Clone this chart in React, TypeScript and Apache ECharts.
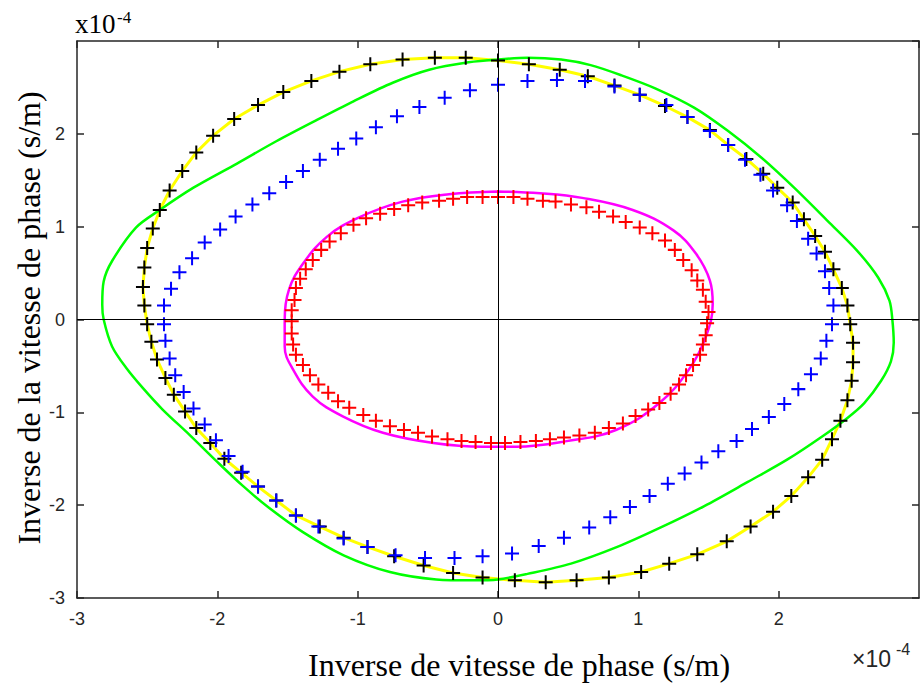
import React, { useEffect, useRef } from "react";
import * as echarts from "echarts";

// values in units of 1e-4 s/m
const axisTicks = [-3, -2, -1, 0, 1, 2, 3];

const blackPlus: [number, number][] = [
  [0.0, 2.79], [-0.23, 2.82], [-0.45, 2.82], [-0.68, 2.8], [-0.91, 2.75], [-1.13, 2.67], [-1.33, 2.57], [-1.53, 2.45],
  [-1.71, 2.31], [-1.88, 2.16], [-2.03, 1.98], [-2.15, 1.8], [-2.25, 1.6], [-2.34, 1.39], [-2.41, 1.18], [-2.46, 0.98],
  [-2.5, 0.77], [-2.52, 0.56], [-2.53, 0.35], [-2.52, 0.15], [-2.5, -0.05], [-2.47, -0.24], [-2.43, -0.43], [-2.37, -0.63],
  [-2.31, -0.81], [-2.23, -0.99], [-2.15, -1.17], [-2.05, -1.33], [-1.95, -1.5], [-1.83, -1.65], [-1.71, -1.8], [-1.58, -1.95],
  [-1.44, -2.11], [-1.27, -2.23], [-1.1, -2.35], [-0.93, -2.45], [-0.74, -2.55], [-0.53, -2.65], [-0.32, -2.73], [-0.11, -2.78],
  [0.12, -2.81], [0.34, -2.83], [0.56, -2.81], [0.79, -2.78], [1.02, -2.72], [1.22, -2.63], [1.42, -2.53], [1.63, -2.39],
  [1.8, -2.23], [1.96, -2.07], [2.09, -1.9], [2.21, -1.7], [2.31, -1.51], [2.38, -1.29], [2.44, -1.09], [2.49, -0.87],
  [2.52, -0.66], [2.53, -0.46], [2.53, -0.25], [2.51, -0.05], [2.49, 0.15], [2.45, 0.34], [2.39, 0.54], [2.33, 0.73],
  [2.26, 0.9], [2.18, 1.08], [2.1, 1.26], [1.99, 1.42], [1.89, 1.57], [1.77, 1.73], [1.64, 1.88], [1.51, 2.04],
  [1.35, 2.18], [1.19, 2.3], [1.01, 2.42], [0.83, 2.52], [0.64, 2.62], [0.44, 2.69], [0.22, 2.75],
];

const bluePlus: [number, number][] = [
  [0.0, 2.53], [-0.2, 2.47], [-0.38, 2.39], [-0.56, 2.29], [-0.72, 2.19], [-0.87, 2.07], [-1.01, 1.95], [-1.14, 1.84],
  [-1.27, 1.72], [-1.39, 1.6], [-1.51, 1.48], [-1.63, 1.36], [-1.75, 1.24], [-1.87, 1.11], [-1.98, 0.97], [-2.09, 0.83],
  [-2.18, 0.66], [-2.27, 0.51], [-2.33, 0.33], [-2.38, 0.15], [-2.38, -0.05], [-2.37, -0.23], [-2.34, -0.42], [-2.3, -0.6],
  [-2.24, -0.78], [-2.17, -0.96], [-2.09, -1.13], [-2.01, -1.3], [-1.92, -1.47], [-1.82, -1.64], [-1.71, -1.8], [-1.58, -1.95],
  [-1.44, -2.11], [-1.28, -2.23], [-1.1, -2.36], [-0.93, -2.45], [-0.73, -2.54], [-0.52, -2.57], [-0.31, -2.57], [-0.11, -2.55],
  [0.1, -2.52], [0.29, -2.44], [0.47, -2.35], [0.65, -2.24], [0.8, -2.13], [0.94, -2.02], [1.08, -1.9], [1.21, -1.77],
  [1.33, -1.66], [1.45, -1.54], [1.57, -1.42], [1.7, -1.31], [1.81, -1.18], [1.93, -1.05], [2.04, -0.91], [2.14, -0.75],
  [2.23, -0.59], [2.3, -0.42], [2.34, -0.23], [2.38, -0.05], [2.39, 0.15], [2.36, 0.34], [2.33, 0.52], [2.27, 0.71],
  [2.21, 0.87], [2.13, 1.06], [2.06, 1.23], [1.96, 1.39], [1.87, 1.56], [1.76, 1.72], [1.64, 1.88], [1.51, 2.03],
  [1.35, 2.18], [1.2, 2.31], [1.01, 2.42], [0.83, 2.51], [0.62, 2.57], [0.42, 2.58], [0.21, 2.57],
];

const greenLine: [number, number][] = [
  [0.0, 2.8], [-0.21, 2.77], [-0.49, 2.69], [-0.75, 2.55], [-1.03, 2.35], [-1.29, 2.15], [-1.58, 1.92], [-1.86, 1.68],
  [-2.17, 1.42], [-2.41, 1.18], [-2.58, 0.99], [-2.75, 0.63], [-2.81, 0.41], [-2.82, 0.16], [-2.81, 0.0], [-2.75, -0.29],
  [-2.65, -0.52], [-2.53, -0.74], [-2.39, -0.97], [-2.2, -1.24], [-2.01, -1.52], [-1.82, -1.79], [-1.63, -2.03], [-1.39, -2.29],
  [-1.1, -2.54], [-0.77, -2.72], [-0.44, -2.8], [-0.18, -2.81], [0.0, -2.8], [0.21, -2.74], [0.52, -2.63], [0.85, -2.45],
  [1.16, -2.24], [1.47, -2.01], [1.78, -1.75], [2.06, -1.51], [2.31, -1.26], [2.49, -1.06], [2.61, -0.9], [2.73, -0.66],
  [2.8, -0.45], [2.82, -0.25], [2.81, 0.0], [2.79, 0.2], [2.71, 0.45], [2.56, 0.74], [2.35, 1.06], [2.11, 1.42],
  [1.88, 1.74], [1.64, 2.03], [1.4, 2.28], [1.12, 2.49], [0.88, 2.63], [0.66, 2.74], [0.45, 2.8], [0.21, 2.82], [0.0, 2.8],
];

const magentaLine: [number, number][] = [
  [0.0, 1.38], [-0.35, 1.35], [-0.68, 1.27], [-0.99, 1.1], [-1.22, 0.89], [-1.39, 0.6], [-1.49, 0.32], [-1.52, 0.0],
  [-1.52, -0.29], [-1.46, -0.54], [-1.32, -0.83], [-1.11, -1.04], [-0.82, -1.22], [-0.46, -1.33], [-0.11, -1.37], [0.13, -1.37],
  [0.49, -1.31], [0.84, -1.19], [1.15, -0.9], [1.36, -0.54], [1.48, -0.19], [1.53, 0.17], [1.51, 0.42], [1.41, 0.71],
  [1.25, 0.96], [0.96, 1.18], [0.6, 1.31], [0.3, 1.36], [0.0, 1.38],
];

const redPlus: [number, number][] = [
  [0.0, 1.32], [-0.11, 1.32], [-0.22, 1.32], [-0.32, 1.3], [-0.42, 1.28], [-0.54, 1.26], [-0.64, 1.23], [-0.74, 1.19],
  [-0.84, 1.14], [-0.94, 1.09], [-1.03, 1.02], [-1.12, 0.93], [-1.2, 0.84], [-1.26, 0.75], [-1.32, 0.64], [-1.37, 0.54],
  [-1.41, 0.44], [-1.44, 0.34], [-1.45, 0.21], [-1.47, 0.1], [-1.47, -0.02], [-1.47, -0.15], [-1.46, -0.27], [-1.44, -0.38],
  [-1.39, -0.49], [-1.34, -0.6], [-1.28, -0.7], [-1.21, -0.79], [-1.14, -0.88], [-1.06, -0.95], [-0.96, -1.03], [-0.87, -1.09],
  [-0.77, -1.15], [-0.67, -1.19], [-0.57, -1.22], [-0.47, -1.26], [-0.36, -1.29], [-0.26, -1.31], [-0.16, -1.32], [-0.05, -1.33],
  [0.05, -1.33], [0.16, -1.32], [0.27, -1.31], [0.37, -1.29], [0.47, -1.27], [0.58, -1.25], [0.69, -1.22], [0.79, -1.17],
  [0.89, -1.12], [0.98, -1.04], [1.07, -0.97], [1.15, -0.9], [1.23, -0.8], [1.29, -0.7], [1.34, -0.6], [1.39, -0.49],
  [1.44, -0.38], [1.46, -0.27], [1.48, -0.17], [1.49, -0.04], [1.5, 0.08], [1.48, 0.19], [1.46, 0.32], [1.42, 0.42],
  [1.38, 0.53], [1.32, 0.64], [1.26, 0.75], [1.19, 0.85], [1.1, 0.93], [1.01, 0.99], [0.91, 1.05], [0.82, 1.11],
  [0.72, 1.16], [0.63, 1.21], [0.52, 1.24], [0.41, 1.27], [0.32, 1.28], [0.21, 1.3], [0.11, 1.32],
];

const xTitle = "Inverse de vitesse de phase (s/m)";
const yTitle = "Inverse de la vitesse de phase (s/m)";

const PLUS = "path://M6,0H8V6H14V8H8V14H6V8H0V6H6Z";
const AX = "#262626";

export default function App() {
  const ref = useRef<HTMLDivElement>(null);
  useEffect(() => {
    const chart = echarts.init(ref.current!, null, { renderer: "svg" });
    const closed = (a: [number, number][]) => [...a, a[0]];
    const axisCommon = (show: boolean) => ({
      type: "value",
      min: axisTicks[0],
      max: axisTicks[axisTicks.length - 1],
      interval: 1,
      axisLine: { show: true, onZero: false, lineStyle: { color: AX, width: 1.5 } },
      axisTick: { show: true, inside: true, length: 7, lineStyle: { color: AX, width: 1.5 } },
      axisLabel: {
        show,
        showMaxLabel: false,
        color: AX,
        fontFamily: "Liberation Sans",
        fontSize: 18,
        margin: 12,
      },
      splitLine: { show: false },
    });
    const plusSeries = (name: string, data: [number, number][], color: string) => ({
      name,
      type: "scatter",
      data,
      symbol: PLUS,
      symbolSize: 14,
      itemStyle: { color, opacity: 1 },
      z: 3,
    });
    chart.setOption({
      animation: false,
      backgroundColor: "#fff",
      grid: { left: 77, top: 41, width: 842, height: 557, containLabel: false, outerBoundsMode: "none" },
      xAxis: [
        { ...axisCommon(true), position: "bottom" },
        { ...axisCommon(false), position: "top" },
      ],
      yAxis: [
        { ...axisCommon(true), position: "left" },
        { ...axisCommon(false), position: "right" },
      ],
      graphic: [
        {
          type: "text",
          x: 519,
          y: 665,
          style: { text: xTitle, font: '32px "Liberation Serif"', fill: "#000", align: "center", verticalAlign: "middle" },
        },
        {
          type: "text",
          x: 29,
          y: 318,
          rotation: Math.PI / 2,
          style: { text: yTitle, font: '32px "Liberation Serif"', fill: "#000", align: "center", verticalAlign: "middle" },
        },
        {
          type: "text",
          x: 75,
          y: 37,
          style: { text: "x10", font: '27px "Liberation Serif"', fill: "#000", align: "left", verticalAlign: "bottom" },
        },
        {
          type: "text",
          x: 117,
          y: 26,
          style: { text: "-4", font: '17px "Liberation Serif"', fill: "#000", align: "left", verticalAlign: "bottom" },
        },
        {
          type: "text",
          x: 852,
          y: 670,
          style: { text: "\u00d710", font: '23px "Liberation Sans"', fill: AX, align: "left", verticalAlign: "bottom" },
        },
        {
          type: "text",
          x: 896,
          y: 657,
          style: { text: "-4", font: '16px "Liberation Sans"', fill: AX, align: "left", verticalAlign: "bottom" },
        },
      ],
      series: [
        {
          type: "line",
          data: [],
          silent: true,
          markLine: {
            silent: true,
            symbol: "none",
            label: { show: false },
            lineStyle: { color: "#000", width: 1, type: "solid" },
            data: [{ xAxis: 0 }, { yAxis: 0 }],
          },
        },
        {
          name: "yellow",
          type: "line",
          data: closed(blackPlus),
          showSymbol: false,
          lineStyle: { color: "#FFFF00", width: 3 },
          z: 2,
        },
        plusSeries("black", blackPlus, "#000000"),
        {
          name: "green",
          type: "line",
          data: greenLine,
          smooth: 0.3,
          showSymbol: false,
          lineStyle: { color: "#00FF00", width: 2.5 },
          z: 2,
        },
        {
          name: "magenta",
          type: "line",
          data: magentaLine,
          smooth: 0.4,
          showSymbol: false,
          lineStyle: { color: "#FF00FF", width: 2.5 },
          z: 2,
        },
        plusSeries("red", redPlus, "#FF0000"),
        plusSeries("blue", bluePlus, "#0000FF"),
      ],
    });
    return () => chart.dispose();
  }, []);
  return (
    <div
      ref={ref}
      style={{ position: "fixed", left: 0, top: 0, width: 922, height: 686, background: "#fff" }}
    />
  );
}
